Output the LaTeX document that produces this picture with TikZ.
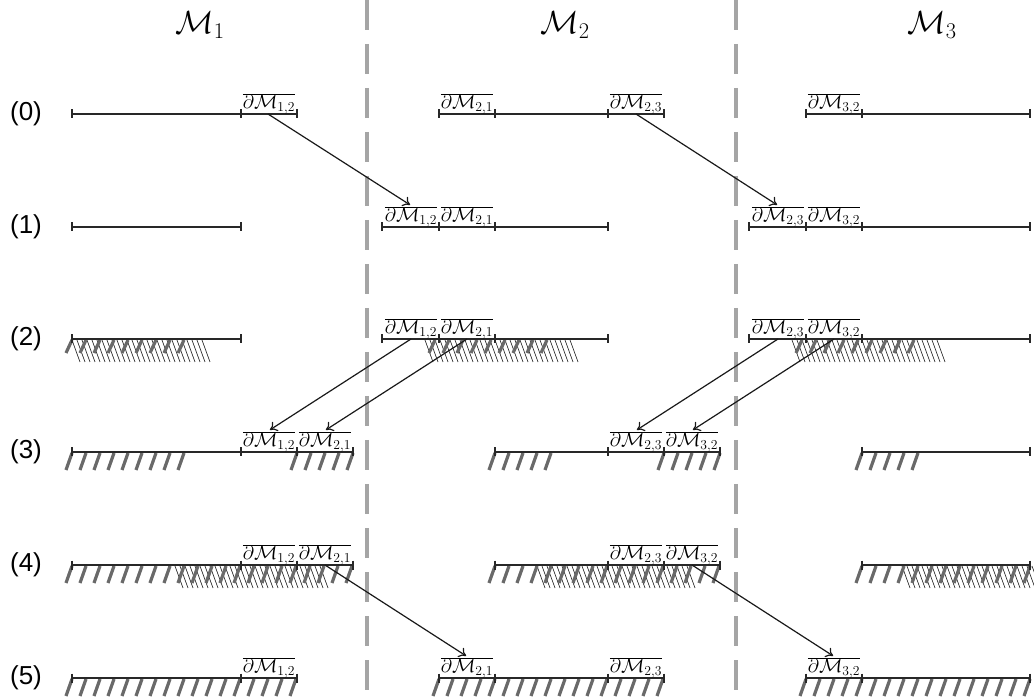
\documentclass[tikz,border=0pt]{standalone}
\usepackage{fontspec}
\usepackage{fix-cm}
\newfontfamily\rowfont{Liberation Sans}
\usetikzlibrary{arrows.meta}
\definecolor{segc}{RGB}{40,40,40}
\definecolor{markc}{RGB}{105,105,105}
\definecolor{divc}{RGB}{165,165,165}
\newcommand{\segrow}[4]{%
  \draw[segline] (#2,#1) -- (#3,#1);
  \foreach \t in {#4} {\draw[segline] (\t,#1-4.5) -- (\t,#1+4.5);}}
\newcommand{\gmarks}[4]{% y, start, last index, length
  \foreach \i in {0,...,#3} {\draw[gmark] (#2+14*\i,#1+1) -- ++(-6,#4);}}
\newcommand{\thatch}[3]{% y, start, last index
  \foreach \i in {0,...,#3} {\draw[thinhatch] (#2+5*\i,#1+1) -- ++(8,22);}}
\begin{document}
\begin{tikzpicture}[x=1pt,y=-1pt,
  segline/.style={draw=segc, line width=1.4pt},
  gmark/.style={draw=markc, line width=3.2pt},
  thinhatch/.style={draw=black!85, line width=0.65pt},
  divider/.style={draw=divc, line width=3.5pt, dash pattern=on 30pt off 14pt},
  bnd/.style={font=\fontsize{19.5}{23}\selectfont, inner sep=0.5pt, anchor=south},
  rowlab/.style={font=\rowfont\fontsize{26}{30}\selectfont},
  title/.style={font=\fontsize{32}{38}\selectfont, inner sep=0pt},
  mv/.style={draw=black!90, line width=1.2pt, -{To[length=7pt,width=11pt]}, shorten >=1pt}]
\useasboundingbox (0,0) rectangle (1034,700);

% titles
\node[title] (t1) at (200,25) {$\mathcal{M}_1$};
\node[title] (t2) at (565,25) {$\mathcal{M}_2$};
\node[title] (t3) at (932,25) {$\mathcal{M}_3$};

% dividers
\draw[divider] (367,0) -- (367,700);
\draw[divider] (736,0) -- (736,700);

% row labels
\node[rowlab] (r0) at (26,114) {(0)};
\node[rowlab] (r1) at (26,227) {(1)};
\node[rowlab] (r2) at (26,339) {(2)};
\node[rowlab] (r3) at (26,452) {(3)};
\node[rowlab] (r4) at (26,565) {(4)};
\node[rowlab] (r5) at (26,678) {(5)};

% ---------- row 0 ----------
\segrow{114}{72}{297}{72,241,297}
\segrow{114}{439}{664}{439,495,608,664}
\segrow{114}{806}{1030}{806,862,1030}
\node[bnd] (l0a) at (269,115) {$\overline{\partial\mathcal{M}_{1,2}}$};
\node[bnd] (l0b) at (467,115) {$\overline{\partial\mathcal{M}_{2,1}}$};
\node[bnd] (l0c) at (636,115) {$\overline{\partial\mathcal{M}_{2,3}}$};
\node[bnd] (l0d) at (834,115) {$\overline{\partial\mathcal{M}_{3,2}}$};

% ---------- row 1 ----------
\segrow{227}{72}{241}{72,241}
\segrow{227}{382}{608}{382,439,495,608}
\segrow{227}{749}{1030}{749,806,862,1030}
\node[bnd] (l1a) at (411,228) {$\overline{\partial\mathcal{M}_{1,2}}$};
\node[bnd] (l1b) at (467,228) {$\overline{\partial\mathcal{M}_{2,1}}$};
\node[bnd] (l1c) at (778,228) {$\overline{\partial\mathcal{M}_{2,3}}$};
\node[bnd] (l1d) at (834,228) {$\overline{\partial\mathcal{M}_{3,2}}$};

% ---------- row 2 ----------
\thatch{339}{72}{26}
\gmarks{339}{72}{8}{13}
\thatch{339}{425}{29}
\gmarks{339}{435}{8}{13}
\thatch{339}{792}{29}
\gmarks{339}{802}{8}{13}
\segrow{339}{72}{241}{72,241}
\segrow{339}{382}{608}{382,439,495,608}
\segrow{339}{749}{1030}{749,806,862,1030}
\node[bnd] (l2a) at (411,340) {$\overline{\partial\mathcal{M}_{1,2}}$};
\node[bnd] (l2b) at (467,340) {$\overline{\partial\mathcal{M}_{2,1}}$};
\node[bnd] (l2c) at (778,340) {$\overline{\partial\mathcal{M}_{2,3}}$};
\node[bnd] (l2d) at (834,340) {$\overline{\partial\mathcal{M}_{3,2}}$};

% ---------- row 3 ----------
\gmarks{452}{72}{8}{17}
\gmarks{452}{297}{4}{17}
\gmarks{452}{495}{4}{17}
\gmarks{452}{664}{4}{17}
\gmarks{452}{862}{4}{17}
\segrow{452}{72}{353}{72,241,297,353}
\segrow{452}{495}{720}{495,608,664,720}
\segrow{452}{862}{1030}{862,1030}
\node[bnd] (l3a) at (269,453) {$\overline{\partial\mathcal{M}_{1,2}}$};
\node[bnd] (l3b) at (325,453) {$\overline{\partial\mathcal{M}_{2,1}}$};
\node[bnd] (l3c) at (636,453) {$\overline{\partial\mathcal{M}_{2,3}}$};
\node[bnd] (l3d) at (692,453) {$\overline{\partial\mathcal{M}_{3,2}}$};

% ---------- row 4 ----------
\thatch{565}{175}{29}
\gmarks{565}{72}{20}{17}
\thatch{565}{537}{30}
\gmarks{565}{495}{16}{17}
\thatch{565}{902}{26}
\gmarks{565}{862}{12}{17}
\segrow{565}{72}{353}{72,241,297,353}
\segrow{565}{495}{720}{495,608,664,720}
\segrow{565}{862}{1030}{862,1030}
\node[bnd] (l4a) at (269,566) {$\overline{\partial\mathcal{M}_{1,2}}$};
\node[bnd] (l4b) at (325,566) {$\overline{\partial\mathcal{M}_{2,1}}$};
\node[bnd] (l4c) at (636,566) {$\overline{\partial\mathcal{M}_{2,3}}$};
\node[bnd] (l4d) at (692,566) {$\overline{\partial\mathcal{M}_{3,2}}$};

% ---------- row 5 ----------
\gmarks{678}{72}{16}{17}
\gmarks{678}{439}{16}{17}
\gmarks{678}{806}{16}{17}
\segrow{678}{72}{297}{72,241,297}
\segrow{678}{439}{664}{439,495,608,664}
\segrow{678}{806}{1030}{806,862,1030}
\node[bnd] (l5a) at (269,679) {$\overline{\partial\mathcal{M}_{1,2}}$};
\node[bnd] (l5b) at (467,679) {$\overline{\partial\mathcal{M}_{2,1}}$};
\node[bnd] (l5c) at (636,679) {$\overline{\partial\mathcal{M}_{2,3}}$};
\node[bnd] (l5d) at (834,679) {$\overline{\partial\mathcal{M}_{3,2}}$};

% ---------- arrow start points ----------
\coordinate (s0a) at (268,114);
\coordinate (s0c) at (636,114);
\coordinate (s2a) at (411,339);
\coordinate (s2b) at (467,339);
\coordinate (s2c) at (778,339);
\coordinate (s2d) at (834,339);
\coordinate (s4b) at (325,565);
\coordinate (s4d) at (692,565);

% ---------- arrows ----------
\draw[mv] (s0a) -- (l1a.north);
\draw[mv] (s0c) -- (l1c.north);
\draw[mv] (s2a) -- (l3a.north);
\draw[mv] (s2b) -- (l3b.north);
\draw[mv] (s2c) -- (l3c.north);
\draw[mv] (s2d) -- (l3d.north);
\draw[mv] (s4b) -- (l5b.north);
\draw[mv] (s4d) -- (l5d.north);
\end{tikzpicture}
\end{document}
